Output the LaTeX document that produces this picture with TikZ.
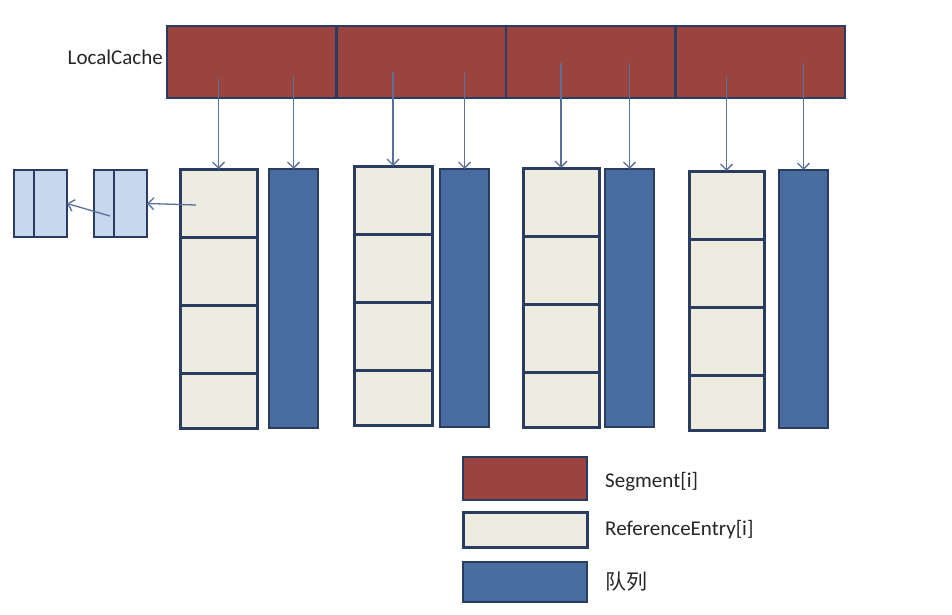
\documentclass[tikz,border=0pt]{standalone}
\usepackage{fontspec}
\setmainfont{Carlito}
\newfontfamily\cjkfont{Noto Sans CJK SC}
\usepackage{tikz}
\usetikzlibrary{arrows, arrows.meta, positioning}

\definecolor{segred}{RGB}{155,68,63}
\definecolor{entrycream}{RGB}{238,236,225}
\definecolor{queueblue}{RGB}{72,108,160}
\definecolor{linkblue}{RGB}{198,215,238}
\definecolor{edgenavy}{RGB}{42,60,95}
\definecolor{arrowblue}{RGB}{88,112,155}
\definecolor{inktext}{RGB}{38,38,38}

\tikzset{
  box/.style={draw=edgenavy, rectangle, inner sep=0pt, outer sep=0pt, anchor=north west},
  segbox/.style={box, fill=segred, line width=2.2pt, minimum width=169.5pt, minimum height=72pt},
  entrybox/.style={box, fill=entrycream, line width=3pt},
  queuebox/.style={box, fill=queueblue, line width=2.2pt},
  linkbox/.style={box, fill=linkblue, line width=2.4pt, minimum width=53pt, minimum height=67pt},
  ptr/.style={-{Straight Barb[length=6pt, width=12pt, line width=1.3pt]}, draw=arrowblue, line width=1.3pt},
  txt/.style={inner sep=0pt, text=inktext, font=\fontsize{21pt}{25pt}\selectfont},
}

\begin{document}
\begin{tikzpicture}[x=1pt, y=-1pt]
  \useasboundingbox (0,0) rectangle (952,615);

  % segments
  \foreach \s in {1,...,4} {
    \node[segbox] (seg\s) at ({167+169.5*(\s-1)},26) {};
  }
  \node[txt, left=4pt of seg1.west, yshift=5pt] (cache) {LocalCache};

  % entry columns and queues
  \foreach \c/\x/\y/\w/\qx/\qy/\qh/\ay/\by in {1/180/169/77/269/169/259/78/75,
      2/354/166/78/440/169/258/72/72,
      3/523/168/76/605/169/258/63/63,
      4/689/171/75/779/170/258/75/63} {
    \foreach \k/\h/\dy in {1/68/0,2/68/68,3/68/136,4/55/204} {
      \node[entrybox, minimum width=\w pt, minimum height=\h pt] (e\c-\k) at (\x,\y+\dy) {};
    }
    \node[queuebox, minimum width=49pt, minimum height=\qh pt] (q\c) at (\qx,\qy) {};
    \coordinate (a\c) at (e\c-1.north |- 0,\ay);
    \coordinate (b\c) at (q\c.north |- 0,\by);
    \draw[ptr] (a\c) -- (e\c-1.north);
    \draw[ptr] (b\c) -- (q\c.north);
  }

  % linked entries
  \node[linkbox] (lnk1) at (94,170) {};
  \node[linkbox] (lnk2) at (14,170) {};
  \foreach \n in {1,2} {
    \draw[edgenavy, line width=1.2pt] ([xshift=20pt]lnk\n.north west) -- ([xshift=20pt]lnk\n.south west);
  }
  \coordinate (p1) at (196,205);
  \coordinate (p2) at (110,216);
  \draw[ptr] (p1) -- (lnk1.east);
  \draw[ptr] (p2) -- (lnk2.east);

  % legend
  \node[box, fill=segred, line width=2.2pt, minimum width=124pt, minimum height=43pt] (legseg) at (463,457) {};
  \node[entrybox, minimum width=124pt, minimum height=35pt] (legentry) at (463,512) {};
  \node[queuebox, minimum width=124pt, minimum height=40pt] (legqueue) at (463,562) {};
  \node[txt, right=18pt of legseg, yshift=-3pt] (tseg) {Segment[i]};
  \node[txt, right=18pt of legentry] (tentry) {ReferenceEntry[i]};
  \node[txt, right=18pt of legqueue] (tqueue) {\cjkfont 队列};
\end{tikzpicture}
\end{document}
